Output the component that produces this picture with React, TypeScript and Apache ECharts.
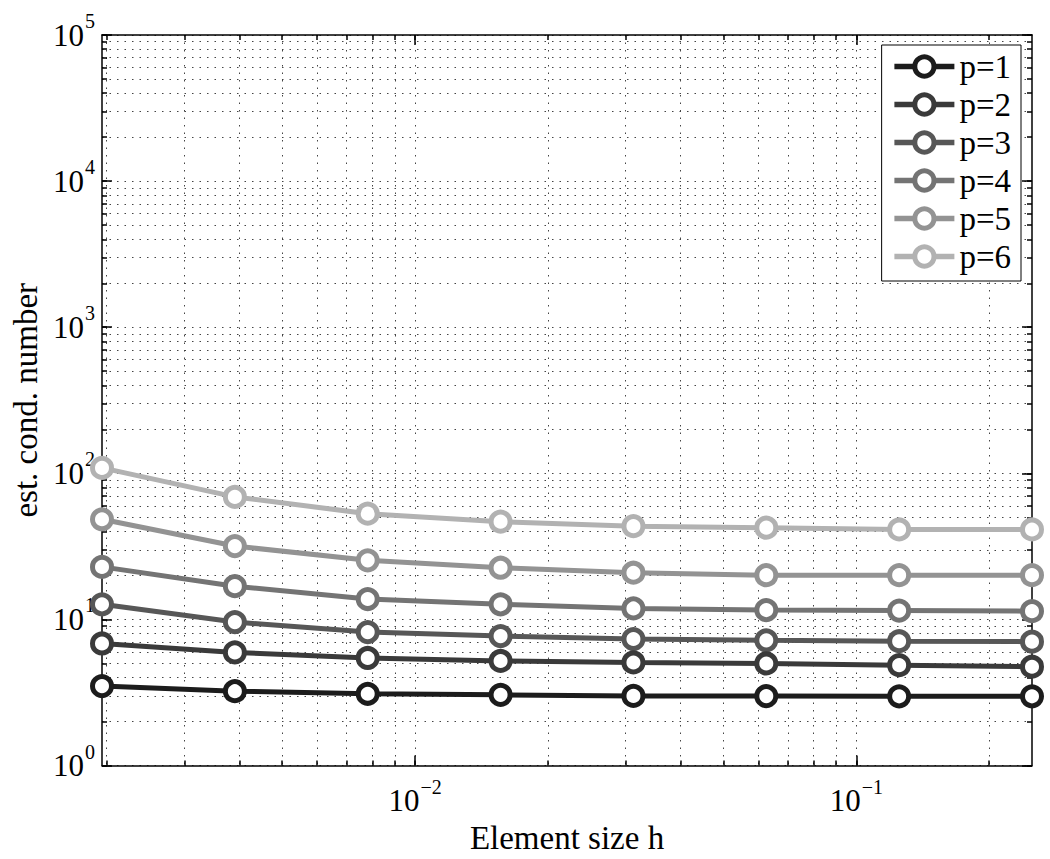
import React, { useEffect, useRef } from 'react';
import * as echarts from 'echarts';

const hValues = [0.001953125, 0.00390625, 0.0078125, 0.015625, 0.03125, 0.0625, 0.125, 0.25];
const seriesNames = ['p=1', 'p=2', 'p=3', 'p=4', 'p=5', 'p=6'];
const p1 = [3.5, 3.23, 3.1, 3.05, 3.0, 2.99, 2.98, 2.98];
const p2 = [6.85, 5.95, 5.45, 5.2, 5.08, 5.0, 4.87, 4.75];
const p3 = [12.7, 9.6, 8.2, 7.7, 7.35, 7.2, 7.1, 7.05];
const p4 = [22.9, 16.9, 13.8, 12.7, 11.9, 11.6, 11.5, 11.4];
const p5 = [48.5, 31.8, 25.4, 22.6, 20.9, 20.1, 20.1, 20.1];
const p6 = [109, 69, 53, 46.7, 43.5, 42.5, 41.3, 41.3];
const seriesValues = [p1, p2, p3, p4, p5, p6];
const seriesColors = ['#1c1c1c', '#3a3a3a', '#575757', '#747474', '#939393', '#b2b2b2'];

const xMajorTicks = [0.01, 0.1];
const xMinorTicks = [0.002, 0.003, 0.004, 0.005, 0.006, 0.007, 0.008, 0.009,
  0.02, 0.03, 0.04, 0.05, 0.06, 0.07, 0.08, 0.09, 0.2];
const yMajorTicks = [1, 10, 100, 1000, 10000, 100000];
const yMinorTicks = [
  2, 3, 4, 5, 6, 7, 8, 9,
  20, 30, 40, 50, 60, 70, 80, 90,
  200, 300, 400, 500, 600, 700, 800, 900,
  2000, 3000, 4000, 5000, 6000, 7000, 8000, 9000,
  20000, 30000, 40000, 50000, 60000, 70000, 80000, 90000,
];
const yMin = 1;
const yMax = 100000;

const FONT = 'Liberation Serif';

function powLabel(v: number): string {
  const e = Math.round(Math.log10(v));
  const s = e < 0 ? '\u2212' + String(-e) : String(e);
  return `{b|10}{s|${s}}`;
}

const rich = {
  b: { fontFamily: FONT, fontSize: 31, color: '#000' },
  s: { fontFamily: FONT, fontSize: 20, color: '#000', padding: [0, 0, 28, 1] },
};

export default function App() {
  const ref = useRef<HTMLDivElement>(null);
  useEffect(() => {
    if (!ref.current) return;
    const chart = echarts.init(ref.current, undefined, { renderer: 'svg' });
    const lineBlack = { color: '#000', width: 1.5 };
    const gridLine = { type: [1.5, 6] as any, color: '#444', width: 1 };
    const baseX = { type: 'log' as const, logBase: 10, min: hValues[0], max: hValues[hValues.length - 1] };
    const baseY = { type: 'log' as const, logBase: 10, min: yMin, max: yMax };
    const allX = [...xMajorTicks, ...xMinorTicks];
    const allY = [...yMajorTicks, ...yMinorTicks];
    const labelBase = { fontFamily: FONT, fontSize: 31, color: '#000' };
    const option: any = {
      animation: false,
      backgroundColor: '#fff',
      grid: { left: 102, right: 18, top: 35, bottom: 92, containLabel: false },
      xAxis: [
        {
          ...baseX, position: 'bottom',
          axisLine: { show: true, lineStyle: lineBlack },
          axisTick: { show: true, inside: true, length: 5, customValues: allX, lineStyle: lineBlack },
          axisLabel: { show: true, customValues: xMajorTicks, formatter: powLabel, rich, margin: 11, ...labelBase },
          splitLine: { show: true, lineStyle: gridLine },
          name: 'Element size h', nameLocation: 'middle', nameGap: 50,
          nameTextStyle: { fontFamily: FONT, fontSize: 33, color: '#000' },
        },
        {
          ...baseX, position: 'bottom',
          axisLine: { show: false },
          axisTick: { show: true, inside: true, length: 10, customValues: xMajorTicks, lineStyle: lineBlack },
          axisLabel: { show: false }, splitLine: { show: false },
        },
        {
          ...baseX, position: 'top',
          axisLine: { show: true, lineStyle: lineBlack },
          axisTick: { show: true, inside: true, length: 5, customValues: allX, lineStyle: lineBlack },
          axisLabel: { show: false }, splitLine: { show: false },
        },
        {
          ...baseX, position: 'top',
          axisLine: { show: false },
          axisTick: { show: true, inside: true, length: 10, customValues: xMajorTicks, lineStyle: lineBlack },
          axisLabel: { show: false }, splitLine: { show: false },
        },
      ],
      yAxis: [
        {
          ...baseY, position: 'left',
          axisLine: { show: true, lineStyle: lineBlack },
          axisTick: { show: true, inside: true, length: 5, customValues: allY, lineStyle: lineBlack },
          axisLabel: { show: true, customValues: yMajorTicks, formatter: powLabel, rich, margin: 7, ...labelBase },
          splitLine: { show: true, lineStyle: gridLine },
          name: 'est. cond. number', nameLocation: 'middle', nameGap: 60,
          nameTextStyle: { fontFamily: FONT, fontSize: 33, color: '#000' },
        },
        {
          ...baseY, position: 'left',
          axisLine: { show: false },
          axisTick: { show: true, inside: true, length: 10, customValues: yMajorTicks, lineStyle: lineBlack },
          axisLabel: { show: false }, splitLine: { show: false },
        },
        {
          ...baseY, position: 'right',
          axisLine: { show: true, lineStyle: lineBlack },
          axisTick: { show: true, inside: true, length: 5, customValues: allY, lineStyle: lineBlack },
          axisLabel: { show: false }, splitLine: { show: false },
        },
        {
          ...baseY, position: 'right',
          axisLine: { show: false },
          axisTick: { show: true, inside: true, length: 10, customValues: yMajorTicks, lineStyle: lineBlack },
          axisLabel: { show: false }, splitLine: { show: false },
        },
      ],
      legend: {
        data: seriesNames,
        orient: 'vertical',
        right: 29,
        top: 45,
        itemWidth: 60,
        itemHeight: 24,
        itemGap: 5,
        backgroundColor: '#fff',
        borderColor: '#000',
        borderWidth: 1,
        borderRadius: 0,
        padding: [5, 10, 8, 10],
        lineStyle: { width: 5.5 },
        itemStyle: { borderWidth: 5 },
        textStyle: { fontFamily: FONT, fontSize: 33, color: '#000' },
      },
      series: seriesNames.map((name, i) => ({
        name,
        type: 'line',
        xAxisIndex: 0,
        yAxisIndex: 0,
        data: hValues.map((h, j) => [h, seriesValues[i][j]]),
        symbol: 'circle',
        symbolSize: 19,
        lineStyle: { color: seriesColors[i], width: 5 },
        itemStyle: { color: '#fff', borderColor: seriesColors[i], borderWidth: 5 },
        z: 10 - i,
      })),
    };
    chart.setOption(option);
    return () => chart.dispose();
  }, []);
  return <div ref={ref} style={{ width: 1050, height: 859, position: 'absolute', left: 0, top: 0 }} />;
}
